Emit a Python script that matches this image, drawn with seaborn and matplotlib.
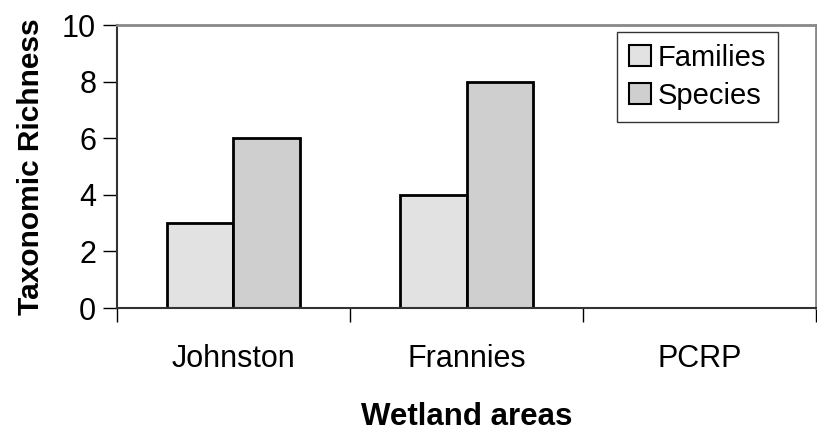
import matplotlib
matplotlib.use("Agg")
import matplotlib.pyplot as plt
import seaborn as sns
import pandas as pd

areas = ["Johnston", "Frannies", "PCRP"]
families = [3, 4, 0]
species = [6, 8, 0]
series_names = ["Families", "Species"]
yticks = [0, 2, 4, 6, 8, 10]

df = pd.DataFrame({
    "area": areas * 2,
    "value": families + species,
    "series": [series_names[0]] * 3 + [series_names[1]] * 3,
})

sns.set_theme(style="white")
plt.rcParams["font.family"] = ["Liberation Sans", "DejaVu Sans"]
plt.rcParams["text.color"] = "black"
plt.rcParams["axes.labelcolor"] = "black"
plt.rcParams["xtick.color"] = "black"
plt.rcParams["ytick.color"] = "black"

fig = plt.figure(figsize=(8.17, 4.38), dpi=100)
ax = fig.add_axes([0.1432, 0.2968, 0.8556, 0.6461])

sns.barplot(data=df, x="area", y="value", hue="series", order=areas,
            hue_order=series_names, palette=["#e2e2e2", "#cfcfcf"],
            width=0.575, edgecolor="black", linewidth=2, saturation=1,
            ax=ax, legend=True)

ax.set_xlim(-0.5, 2.5)
ax.set_ylim(0, 10)
ax.set_yticks(yticks)
ax.set_yticklabels([str(t) for t in yticks], fontsize=22)
ax.set_xticks(range(len(areas)))
ax.set_xticklabels(areas, fontsize=22)
ax.set_xticks([-0.5, 0.5, 1.5, 2.5], minor=True)
ax.tick_params(axis="x", which="major", length=0, pad=26, labelcolor="black")
ax.tick_params(axis="x", which="minor", length=10, width=1, color="black", direction="out", bottom=True)
ax.tick_params(axis="y", length=10, width=1, color="black", direction="out", left=True, pad=5, labelcolor="black")

for side in ["left", "bottom"]:
    ax.spines[side].set_color("#333333")
    ax.spines[side].set_linewidth(1.5)
for side in ["top", "right"]:
    ax.spines[side].set_visible(True)
    ax.spines[side].set_color("#888888")
    ax.spines[side].set_linewidth(2)

ax.set_ylabel("Taxonomic Richness", fontsize=21.5, fontweight="bold", labelpad=12, color="black")
ax.set_xlabel("Wetland areas", fontsize=22.5, fontweight="bold", labelpad=20, color="black")

leg = ax.legend(loc="upper right", bbox_to_anchor=(0.9456, 0.975), borderaxespad=0,
                fontsize=21, frameon=True, fancybox=False, edgecolor="black",
                handlelength=0.75, handleheight=0.75, handletextpad=0.25,
                borderpad=0.4, labelspacing=0.35)
leg.get_frame().set_linewidth(1)
for h in leg.legend_handles:
    h.set_linewidth(1.5)
for t in leg.get_texts():
    t.set_color("black")

fig.savefig("out.png", dpi=100)
